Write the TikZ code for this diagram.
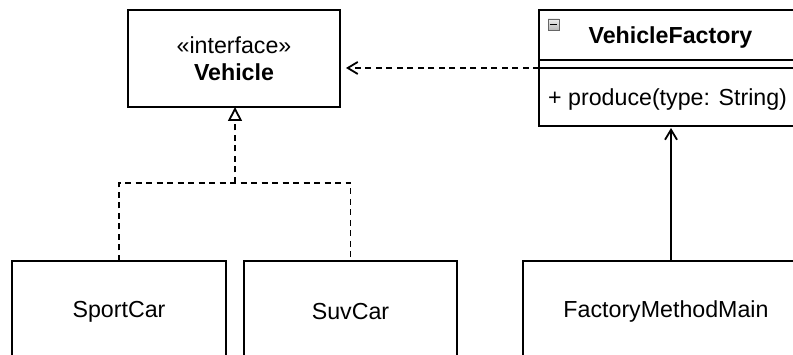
\documentclass[tikz,border=0pt]{standalone}
\usepackage{fontspec}
\setmainfont{Liberation Sans}
\usetikzlibrary{arrows.meta,calc}
\begin{document}
\begin{tikzpicture}[x=1pt,y=-1pt,
  umlbox/.style={draw=black,line width=1.8pt,rectangle,inner sep=0pt,outer sep=0pt,
    font=\fontsize{23.2}{27}\selectfont},
  conn/.style={line width=1.8pt},
  dashconn/.style={conn,dash pattern=on 6pt off 4.5pt},
  vee/.style={-{Straight Barb[length=10pt,width=12pt,line width=1.8pt]}},
  tri/.style={-{Triangle[open,length=14pt,width=14pt,line width=1.8pt]}},
  lbl/.style={font=\fontsize{23.2}{27}\selectfont,inner sep=0pt}]
\useasboundingbox (0,0) rectangle (793,355);
\clip (0,0) rectangle (793,355);
\fill[white] (0,0) rectangle (793,355);
% interface Vehicle
\node[umlbox,minimum width=212pt,minimum height=97pt,align=center] (veh) at (234,58.5) {};
\node[lbl] (vehs) at (234,45) {«interface»};
\node[lbl,font=\fontsize{23.2}{27}\selectfont\bfseries] (vehn) at (234,72) {Vehicle};
% VehicleFactory
\node[umlbox,minimum width=264pt,minimum height=116pt] (vf) at (671,68) {};
\node[lbl,font=\fontsize{23.2}{27}\selectfont\bfseries] (vft) at (670.5,38) {VehicleFactory};
\draw[conn] (vf.west |- 0,60) -- (vf.east |- 0,60);
\draw[conn] (vf.west |- 0,68) -- (vf.east |- 0,68);
\node[lbl,anchor=west] (vfop) at (548,100) {+ produce(type: String)};
\node[draw=gray!80!black,line width=0.8pt,top color=gray!15,bottom color=gray!55,
  minimum width=11pt,minimum height=11pt,inner sep=0pt] (icon) at (553.5,24.5) {};
\draw[line width=1.8pt] ([xshift=2pt]icon.west) -- ([xshift=-2pt]icon.east);
% bottom classes
\node[umlbox,minimum width=214pt,minimum height=102pt] (sport) at (119,312) {SportCar};
\node[umlbox,minimum width=213pt,minimum height=102pt] (suv) at (350.5,312) {SuvCar};
\node[umlbox,minimum width=286pt,minimum height=102pt] (fmm) at (666,312) {FactoryMethodMain};
% realization
\coordinate (j) at (235,183);
\draw[dashconn] (sport.north) |- (j) -| (suv.north);
\draw[dashconn,tri] (j) -- (j |- veh.south);
% dependency
\draw[dashconn,vee,shorten >=6pt] (vf.west) -- (vf.west -| veh.east);
% association
\draw[conn,vee,shorten >=2pt] ([xshift=5pt]fmm.north) -- ([xshift=5pt]fmm.north |- vf.south);
\end{tikzpicture}
\end{document}
